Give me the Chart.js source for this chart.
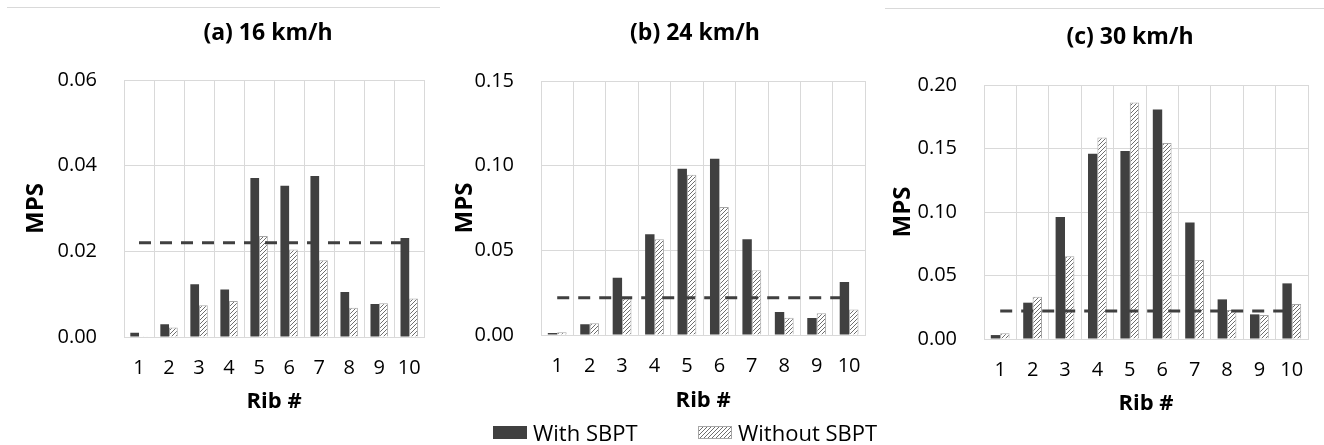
<!DOCTYPE html>
<html lang="en">
<head>
<meta charset="UTF-8">
<title>MPS por costilla</title>
<script src="https://cdn.jsdelivr.net/npm/chart.js"></script>
<style>
    body { margin: 0; background: #fff; width: 1324px; height: 445px; position: relative; overflow: hidden; font-family: "Open Sans", sans-serif; }
    .caja { position: absolute; top: 0; height: 445px; }
    #cajaA { left: 0; width: 440px; }
    #cajaB { left: 440px; width: 440px; }
    #cajaC { left: 880px; width: 444px; }
    .regla { position: absolute; height: 1px; background: #d9d9d9; }
    #leyenda { position: absolute; top: 420px; left: 0; width: 1324px; height: 25px; font-size: 22px; line-height: 24px; color: #000; }
    .item { position: absolute; top: 0; display: flex; align-items: center; }
    .muestra { width: 34px; height: 13px; margin-right: 6px; box-sizing: border-box; }
</style>
</head>
<body>
    <div class="regla" style="left:7px; width:433px; top:7px;"></div>
    <div class="regla" style="left:885px; width:439px; top:8px;"></div>

    <div class="caja" id="cajaA"><canvas id="graficaA" width="440" height="445"></canvas></div>
    <div class="caja" id="cajaB"><canvas id="graficaB" width="440" height="445"></canvas></div>
    <div class="caja" id="cajaC"><canvas id="graficaC" width="444" height="445"></canvas></div>

    <div id="leyenda">
        <div class="item" style="left:493px;"><div class="muestra" style="background:#404040;"></div>With SBPT</div>
        <div class="item" style="left:698px;"><div class="muestra" id="muestraSin" style="border:1px solid #a6a6a6;"></div>Without SBPT</div>
    </div>

    <script>
        // Datos
        var costillas = ['1', '2', '3', '4', '5', '6', '7', '8', '9', '10'];

        var conA = [0.0010, 0.0030, 0.0123, 0.0111, 0.0371, 0.0353, 0.0376, 0.0105, 0.0077, 0.0231];
        var sinA = [0.0002, 0.0022, 0.0074, 0.0084, 0.0236, 0.0204, 0.0179, 0.0068, 0.0079, 0.0090];

        var conB = [0.0012, 0.0063, 0.0338, 0.0595, 0.0982, 0.1041, 0.0565, 0.0136, 0.0100, 0.0313];
        var sinB = [0.0016, 0.0069, 0.0215, 0.0565, 0.0947, 0.0756, 0.0382, 0.0102, 0.0128, 0.0150];

        var conC = [0.0031, 0.0286, 0.0960, 0.1459, 0.1480, 0.1808, 0.0918, 0.0312, 0.0194, 0.0438];
        var sinC = [0.0045, 0.0333, 0.0651, 0.1587, 0.1863, 0.1543, 0.0622, 0.0228, 0.0189, 0.0275];

        // Línea de umbral (discontinua)
        var umbral = [0.022, 0.022, 0.022, 0.022, 0.022, 0.022, 0.022, 0.022, 0.022, 0.022];

        var ticksA = [0, 0.02, 0.04, 0.06];
        var ticksB = [0, 0.05, 0.10, 0.15];
        var ticksC = [0, 0.05, 0.10, 0.15, 0.20];

        Chart.defaults.color = '#000';
        Chart.defaults.font.family = '"Open Sans", sans-serif';

        // Patrón rayado para "Without SBPT"
        var tile = document.createElement('canvas');
        tile.width = 4; tile.height = 4;
        var tc = tile.getContext('2d');
        tc.fillStyle = '#fff';
        tc.fillRect(0, 0, 4, 4);
        tc.strokeStyle = '#6e6e6e';
        tc.lineWidth = 1;
        tc.beginPath();
        tc.moveTo(0, 4); tc.lineTo(4, 0);
        tc.moveTo(-1, 1); tc.lineTo(1, -1);
        tc.moveTo(3, 5); tc.lineTo(5, 3);
        tc.stroke();
        var rayado = tc.createPattern(tile, 'repeat');
        document.getElementById('muestraSin').style.backgroundImage = 'url(' + tile.toDataURL() + ')';

        // Mueve el bloque del título para que quede centrado donde está en la figura
        var centrarTitulo = {
            id: 'centrarTitulo',
            afterLayout: function (chart, args, opts) {
                var t = chart.titleBlock;
                if (!t) return;
                t.left = opts.centro - 200;
                t.right = opts.centro + 200;
                t.width = 400;
            }
        };

        function crearGrafica(id, titulo, con, sin, marcas, geo) {
            var ctx = document.getElementById(id).getContext('2d');
            return new Chart(ctx, {
                type: 'bar',
                data: {
                    labels: costillas,
                    datasets: [{
                        type: 'line',
                        label: 'Umbral',
                        data: umbral,
                        borderColor: '#404040',
                        borderWidth: 3,
                        borderDash: [12, 9],
                        pointRadius: 0,
                        fill: false,
                        order: 0
                    }, {
                        label: 'With SBPT',
                        data: con,
                        backgroundColor: '#404040',
                        borderWidth: 0,
                        order: 1
                    }, {
                        label: 'Without SBPT',
                        data: sin,
                        backgroundColor: rayado,
                        borderColor: '#a6a6a6',
                        borderWidth: 1,
                        order: 1
                    }]
                },
                plugins: [centrarTitulo],
                options: {
                    responsive: false,
                    animation: false,
                    categoryPercentage: 0.58,
                    barPercentage: 1.0,
                    layout: { padding: { left: 0, right: geo.der, top: 0, bottom: geo.abajo } },
                    plugins: {
                        legend: { display: false },
                        tooltip: { enabled: false },
                        centrarTitulo: { centro: geo.centro },
                        title: {
                            display: true,
                            text: titulo,
                            color: '#000',
                            font: { size: 23, weight: 'bold' },
                            padding: { top: geo.tArriba, bottom: geo.tAbajo }
                        }
                    },
                    scales: {
                        x: {
                            grid: { color: '#d9d9d9', drawTicks: false, offset: true },
                            border: { color: '#d9d9d9' },
                            ticks: { font: { size: 20 }, padding: 19, maxRotation: 0 },
                            title: { display: true, text: 'Rib #', font: { size: 22, weight: 'bold' }, padding: { top: 0, bottom: geo.ribAbajo } },
                            afterFit: function (s) { s.height = 80; }
                        },
                        y: {
                            min: marcas[0],
                            max: marcas[marcas.length - 1],
                            afterBuildTicks: function (s) { s.ticks = marcas.map(function (v) { return { value: v }; }); },
                            grid: { color: '#d9d9d9', drawTicks: false },
                            border: { color: '#d9d9d9' },
                            ticks: { font: { size: 20 }, padding: 27, callback: function (v) { return v.toFixed(2); } },
                            title: { display: true, text: 'MPS', font: { size: 24, weight: 'bold' }, padding: { top: geo.mps, bottom: 0 } },
                            afterFit: function (s) { s.width = geo.ancho; }
                        }
                    }
                }
            });
        }

        crearGrafica('graficaA', '(a) 16 km/h', conA, sinA, ticksA,
            { centro: 268, der: 7, abajo: 28, tArriba: 19.2, tAbajo: 33.2, ribAbajo: 2, mps: 21.6, ancho: 124 });
        crearGrafica('graficaB', '(b) 24 km/h', conB, sinB, ticksB,
            { centro: 255, der: 9, abajo: 30, tArriba: 19.2, tAbajo: 34.2, ribAbajo: 1, mps: 10.6, ancho: 101 });
        crearGrafica('graficaC', '(c) 30 km/h', conC, sinC, ticksC,
            { centro: 250, der: 16, abajo: 26, tArriba: 23.2, tAbajo: 34.2, ribAbajo: 2, mps: 8.6, ancho: 104 });
    </script>
</body>
</html>
